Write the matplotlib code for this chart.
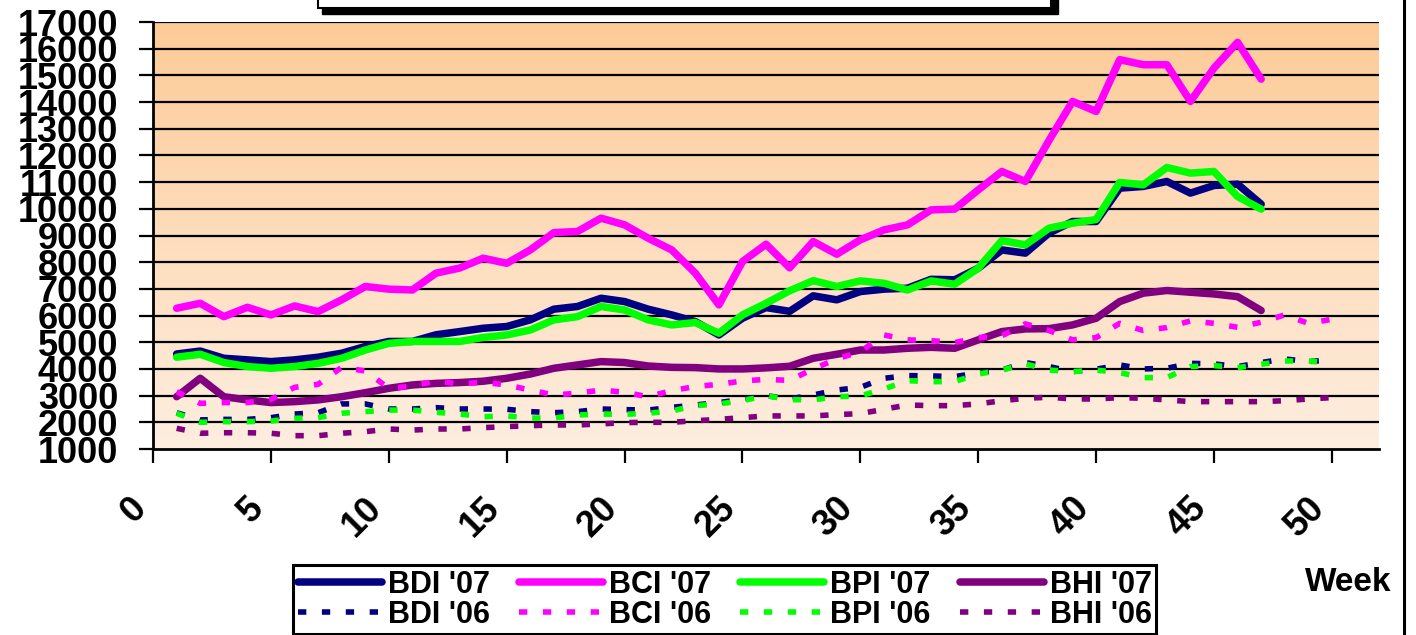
import numpy as np
import matplotlib
matplotlib.use("Agg")
import matplotlib.pyplot as plt
from matplotlib.patches import Rectangle
from matplotlib.lines import Line2D

plt.rcParams['font.family'] = ['Liberation Sans', 'DejaVu Sans']
plt.rcParams['font.weight'] = 'bold'

# weeks
weeks_07 = list(range(1, 48))
weeks_06 = list(range(1, 51))

# 2007 indices
bdi_07 = [4560, 4670, 4400, 4340, 4275, 4340, 4440, 4590, 4840, 5030,
          5030, 5280, 5400, 5525, 5590, 5840, 6240, 6340, 6650, 6525,
          6240, 6025, 5775, 5275, 5900, 6300, 6160, 6740, 6590, 6900,
          6990, 7025, 7360, 7340, 7775, 8460, 8340, 9090, 9525, 9525,
          10775, 10840, 11025, 10590, 10875, 10925, 10175]
bci_07 = [6275, 6460, 5960, 6310, 6025, 6360, 6150, 6590, 7090, 6990,
          6960, 7590, 7780, 8150, 7960, 8460, 9110, 9150, 9650, 9400,
          8900, 8460, 7590, 6400, 8025, 8675, 7790, 8775, 8300, 8840,
          9210, 9400, 9960, 9990, 10710, 11400, 11025, 12560, 14025, 13650,
          15590, 15400, 15400, 14025, 15275, 16240, 14860]
bpi_07 = [4440, 4550, 4240, 4090, 4025, 4090, 4210, 4400, 4710, 4960,
          5030, 5030, 5030, 5180, 5275, 5460, 5840, 5960, 6340, 6210,
          5840, 5650, 5740, 5340, 6025, 6460, 6930, 7310, 7090, 7300,
          7210, 6960, 7300, 7175, 7775, 8810, 8650, 9275, 9460, 9600,
          10990, 10900, 11550, 11340, 11400, 10460, 9990]
bhi_07 = [2960, 3650, 2960, 2840, 2740, 2775, 2840, 2960, 3110, 3275,
          3400, 3460, 3490, 3540, 3650, 3810, 4025, 4150, 4275, 4240,
          4110, 4060, 4050, 4000, 4000, 4040, 4100, 4400, 4550, 4710,
          4710, 4775, 4810, 4775, 5090, 5400, 5500, 5510, 5650, 5900,
          6525, 6840, 6940, 6875, 6810, 6710, 6190]

# 2006 indices
bdi_06 = [2360, 2090, 2110, 2110, 2175, 2310, 2360, 2690, 2690, 2500,
          2500, 2550, 2500, 2500, 2490, 2400, 2360, 2400, 2500, 2475,
          2460, 2560, 2650, 2740, 2860, 3000, 2880, 3025, 3210, 3310,
          3650, 3750, 3740, 3710, 3860, 3960, 4240, 4090, 3900, 3990,
          4150, 4000, 4025, 4210, 4190, 4090, 4240, 4375, 4275, 4340]
bci_06 = [3150, 2710, 2740, 2740, 2860, 3310, 3425, 4060, 3925, 3275,
          3360, 3550, 3440, 3500, 3400, 3210, 3025, 3090, 3210, 3125,
          2960, 3190, 3340, 3425, 3550, 3610, 3570, 4000, 4375, 4650,
          5275, 5090, 5060, 4990, 5175, 5240, 5690, 5440, 5090, 5175,
          5710, 5440, 5550, 5800, 5710, 5560, 5750, 6025, 5710, 5860]
bpi_06 = [2340, 2000, 2025, 2025, 2050, 2150, 2175, 2340, 2400, 2460,
          2460, 2375, 2310, 2210, 2240, 2160, 2160, 2275, 2310, 2300,
          2340, 2425, 2625, 2690, 2810, 3000, 2850, 2840, 2960, 2990,
          3250, 3560, 3525, 3525, 3810, 3960, 4190, 3960, 3900, 3960,
          3860, 3675, 3675, 4090, 4125, 4050, 4175, 4300, 4300, 4210]
bhi_06 = [1775, 1590, 1610, 1610, 1590, 1500, 1500, 1590, 1650, 1750,
          1710, 1750, 1750, 1800, 1840, 1875, 1900, 1900, 1940, 1990,
          2000, 2000, 2060, 2110, 2175, 2240, 2240, 2240, 2290, 2325,
          2490, 2650, 2625, 2625, 2690, 2810, 2900, 2940, 2875, 2875,
          2925, 2900, 2840, 2775, 2775, 2775, 2775, 2810, 2875, 2925]

colors = {'BDI': '#000080', 'BCI': '#FF00FF', 'BPI': '#00FF00', 'BHI': '#800080'}

fig = plt.figure(figsize=(14.16, 6.35), dpi=100)
ax = fig.add_axes([0.1081, 0.2929, 0.8658, 0.6724])

# gradient background
grad = np.linspace(0, 1, 256).reshape(-1, 1)
top = np.array([253, 203, 151]) / 255
bot = np.array([254, 238, 224]) / 255
img = top * (1 - grad[..., None]) + bot * grad[..., None]
img = img.reshape(256, 1, 3)
ax.imshow(img, extent=[0, 52, 1000, 17000], aspect='auto', zorder=0,
          origin='upper')

ax.set_xlim(0, 52)
ax.set_ylim(1000, 17000)

for y in range(2000, 17001, 1000):
    ax.axhline(y, color='black', lw=1.6, zorder=1)

solid = dict(lw=5.4, solid_capstyle='round', solid_joinstyle='round', zorder=3)
dot = dict(lw=4.0, linestyle=(0, (1.5, 2.8)), dash_capstyle='butt', zorder=4)

h = {}
h['BDI07'], = ax.plot(weeks_07, bdi_07, color=colors['BDI'], label="BDI '07", **solid)
h['BCI07'], = ax.plot(weeks_07, bci_07, color=colors['BCI'], label="BCI '07", **solid)
h['BPI07'], = ax.plot(weeks_07, bpi_07, color=colors['BPI'], label="BPI '07", **solid)
h['BHI07'], = ax.plot(weeks_07, bhi_07, color=colors['BHI'], label="BHI '07", **solid)
h['BDI06'], = ax.plot(weeks_06, bdi_06, color=colors['BDI'], label="BDI '06", **dot)
h['BCI06'], = ax.plot(weeks_06, bci_06, color=colors['BCI'], label="BCI '06", **dot)
h['BPI06'], = ax.plot(weeks_06, bpi_06, color=colors['BPI'], label="BPI '06", **dot)
h['BHI06'], = ax.plot(weeks_06, bhi_06, color=colors['BHI'], label="BHI '06", **dot)

ax.set_yticks(range(1000, 17001, 1000))
ax.set_yticklabels([str(v) for v in range(1000, 17001, 1000)],
                   fontsize=26, fontweight='bold')
ax.set_xticks(range(0, 51, 5))
ax.set_xticklabels([str(v) for v in range(0, 51, 5)], fontsize=26,
                   fontweight='bold', rotation=45, ha='right')
ax.tick_params(axis='y', length=10, width=1.6, pad=15, direction='out')
ax.tick_params(axis='x', length=10, width=1.6, pad=20, direction='out')

for s in ['right', 'top']:
    ax.spines[s].set_visible(False)
ax.spines['left'].set_linewidth(2)
ax.spines['bottom'].set_linewidth(2)

order = ['BDI07', 'BDI06', 'BCI07', 'BCI06', 'BPI07', 'BPI06', 'BHI07', 'BHI06']
leg = fig.legend([h[k] for k in order], [h[k].get_label() for k in order],
                 ncol=4, loc='upper left', bbox_to_anchor=(0.207, 0.110),
                 borderaxespad=0, fancybox=False, framealpha=1,
                 edgecolor='black', prop={'size': 22, 'weight': 'bold'},
                 handlelength=2.75, handletextpad=0.2, columnspacing=0.95,
                 labelspacing=0.0, borderpad=0.15)
leg.get_frame().set_linewidth(2.2)

fig.text(0.952, 0.082, 'Week', fontsize=24, fontweight='bold',
         ha='center', va='center')

# title box cut off at the top
fig.patches.append(Rectangle((0.2275, 0.978), 0.52, 0.06, transform=fig.transFigure,
                             facecolor='black', edgecolor='black', zorder=1))
fig.patches.append(Rectangle((0.2245, 0.987), 0.518, 0.06, transform=fig.transFigure,
                             facecolor='white', edgecolor='black', lw=1.5, zorder=2))

fig.lines.append(Line2D([0.9915, 0.9915], [0, 1], transform=fig.transFigure,
                        color='black', lw=2.2))

fig.savefig('out.png', dpi=100)
